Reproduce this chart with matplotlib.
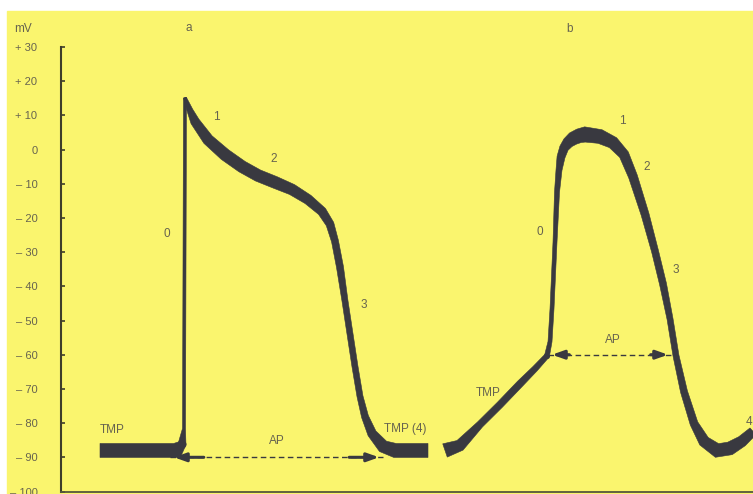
import matplotlib
matplotlib.use("Agg")
import matplotlib.pyplot as plt
import numpy as np
from matplotlib.patches import Rectangle, Polygon

plt.rcParams["font.family"] = ["Liberation Sans", "DejaVu Sans"]

# ---- data -------------------------------------------------------------
# (a) working myocardium action potential: time (arbitrary units), membrane potential (mV)
a_time = [39, 116, 121, 123, 124, 129, 134, 147, 164, 181, 197, 214, 231, 247,
          261, 269, 274, 279, 284, 289, 294, 299, 304, 311, 322, 334, 367]
a_mv = [-88, -88, -86.2, -81.6, 15.1, 11.4, 8.2, 2.9, -1.5, -5.0, -7.6, -9.6,
        -11.7, -14.6, -18.1, -21.8, -26.8, -34.4, -44.3, -53.9, -63.5, -72.2,
        -78.1, -83.0, -86.8, -88, -88]

# (b) pacemaker (sinus node) action potential
b_time = [384, 399, 419, 439, 459, 474, 486, 489, 491, 494, 496, 498, 500, 503,
          507, 512, 518, 524, 539, 552, 563, 572, 584, 594, 602, 609, 615, 623,
          633, 643, 656, 669, 681, 692]
b_mv = [-88.0, -86.5, -80.4, -74.6, -68.5, -64.1, -60.3, -56.2, -46.6, -27.1,
        -12.5, -6.0, -2.2, 0.4, 2.0, 3.2, 4.0, 4.4, 3.8, 2.0, -1.5, -7.9, -18.9,
        -29.7, -39.3, -49.5, -60.3, -70.8, -80.1, -85.3, -88.0, -87.4, -85.3,
        -82.4]

# stroke width of the recorded trace at each sample (pixels)
a_width = [14, 14, 8, 3, 3, 6, 9, 11, 12, 12, 12, 12, 11, 10, 9, 8, 7, 7, 6, 6,
           6, 6, 7, 9, 12, 14, 14]
b_width = [14, 11, 7, 7, 7, 6, 5, 4, 4, 4, 5, 6, 8, 9, 11, 13, 14, 15, 14, 12,
           10, 9, 8, 7, 7, 6, 6, 7, 8, 11, 13, 13, 11, 9]

# sample indices where the trace turns sharply (upstroke foot / peak)
a_corners = [2, 4]
b_corners = [6]

# action potential duration markers: start, end, level (mV)
a_ap = (109, 322, -90)
b_ap = (487, 611, -60)

y_ticks = [30, 20, 10, 0, -10, -20, -30, -40, -50, -60, -70, -80, -90, -100]
y_tick_labels = ["+ 30", "+ 20", "+ 10", "0", "\u2013 10", "\u2013 20", "\u2013 30",
                 "\u2013 40", "\u2013 50", "\u2013 60", "\u2013 70", "\u2013 80",
                 "\u2013 90", "\u2013 100"]

a_labels = [("0", 106, -24.8), ("1", 155, 9.6), ("2", 213, -2.9), ("3", 303, -45.4),
            ("TMP", 51, -81.9), ("TMP (4)", 344, -81.6), ("AP", 216, -85.3)]
b_labels = [("0", 479, -24.2), ("1", 561, 8.2), ("2", 586, -5.0), ("3", 615, -35.2),
            ("TMP", 427, -71.1), ("AP", 552, -55.6)]

# ---- style ------------------------------------------------------------
YELLOW = "#FAF56E"
TRACE = "#393940"
AXIS = "#3E3D2A"
TEXT = "#66634F"

fig = plt.figure(figsize=(7.53, 4.94), dpi=100, facecolor="white")
paper = Rectangle((7 / 753, 0), 746 / 753, 483 / 494,
                  transform=fig.transFigure, color=YELLOW, zorder=-10)
fig.patches.append(paper)

ax = fig.add_axes([61 / 753, 2.5 / 494, 692 / 753, 480.5 / 494])
ax.set_zorder(1)
ax.set_facecolor("none")
ax.set_xlim(0, 692)
ax.set_ylim(-100, 40.5)


def _unit(vec):
    n = np.hypot(vec[..., 0], vec[..., 1])[..., None]
    return vec / np.where(n == 0, 1, n)


def ribbon(t, v, w):
    """Fill a variable-width stroke along the sampled trace (widths in pixels)."""
    pts = ax.transData.transform(np.column_stack([t, v]))
    w = np.asarray(w, dtype=float) * fig.dpi / 100.0
    seg = _unit(np.diff(pts, axis=0))
    d_prev = np.vstack([seg[:1], seg])
    d_next = np.vstack([seg, seg[-1:]])
    tang = _unit(d_prev + d_next)
    normal = np.column_stack([-tang[:, 1], tang[:, 0]])
    seg_norm = np.column_stack([-d_prev[:, 1], d_prev[:, 0]])
    miter = 1.0 / np.clip(np.sum(normal * seg_norm, axis=1), 0.4, None)
    off = normal * (w * miter / 2.0)[:, None]
    outline = np.vstack([pts + off, (pts - off)[::-1]])
    data = ax.transData.inverted().transform(outline)
    ax.add_patch(Polygon(data, closed=True, facecolor=TRACE, edgecolor=TRACE,
                         lw=0.4, joinstyle="round", zorder=3))


def draw_trace(t, v, w, corners):
    cuts = [0] + list(corners) + [len(t) - 1]
    for i0, i1 in zip(cuts[:-1], cuts[1:]):
        ribbon(t[i0:i1 + 1], v[i0:i1 + 1], w[i0:i1 + 1])
    for c in corners:
        ax.plot(t[c], v[c], "o", ms=w[c] * 0.72, color=TRACE, mec="none", zorder=3)


draw_trace(a_time, a_mv, a_width, a_corners)
draw_trace(b_time, b_mv, b_width, b_corners)


def draw_ap(start, end, level):
    ax.plot([start, end], [level, level], color=TRACE, lw=1.0,
            ls=(0, (4, 2.5)), zorder=2)
    head = 0.14 * (end - start)
    for tip, tail in ((start + 4, start + 4 + head), (end - 4, end - 4 - head)):
        ax.annotate("", xy=(tip, level), xytext=(tail, level),
                    arrowprops=dict(arrowstyle="-|>,head_length=0.7,head_width=0.25",
                                    lw=2.2, color=TRACE, shrinkA=0, shrinkB=0),
                    zorder=4)


draw_ap(*a_ap)
draw_ap(*b_ap)

for txt, t, v in a_labels + b_labels:
    ax.text(t, v, txt, ha="center", va="center", fontsize=8.5, color=TEXT)

ax.text(685, -79.8, "4", ha="left", va="center", fontsize=8.5, color=TEXT,
        clip_on=True)
ax.text(128, 35.5, "a", ha="center", va="center", fontsize=8.5, color=TEXT)
ax.text(509, 35.2, "b", ha="center", va="center", fontsize=8.5, color=TEXT)
ax.text(-38, 35.2, "mV", ha="center", va="center", fontsize=8.5, color=TEXT,
        clip_on=False)

# axes
for side in ("top", "right"):
    ax.spines[side].set_visible(False)
ax.spines["left"].set_bounds(-100, 30)
ax.spines["left"].set_color(AXIS)
ax.spines["left"].set_linewidth(1.5)
ax.spines["bottom"].set_color("#55573A")
ax.spines["bottom"].set_linewidth(1.3)
ax.set_xticks([])
ax.set_yticks(y_ticks)
ax.set_yticklabels(y_tick_labels)
ax.tick_params(axis="y", direction="in", length=3, width=1.2, color=AXIS,
               pad=17, labelsize=8, labelcolor=TEXT)

fig.savefig("out.png", dpi=100, facecolor="white")
